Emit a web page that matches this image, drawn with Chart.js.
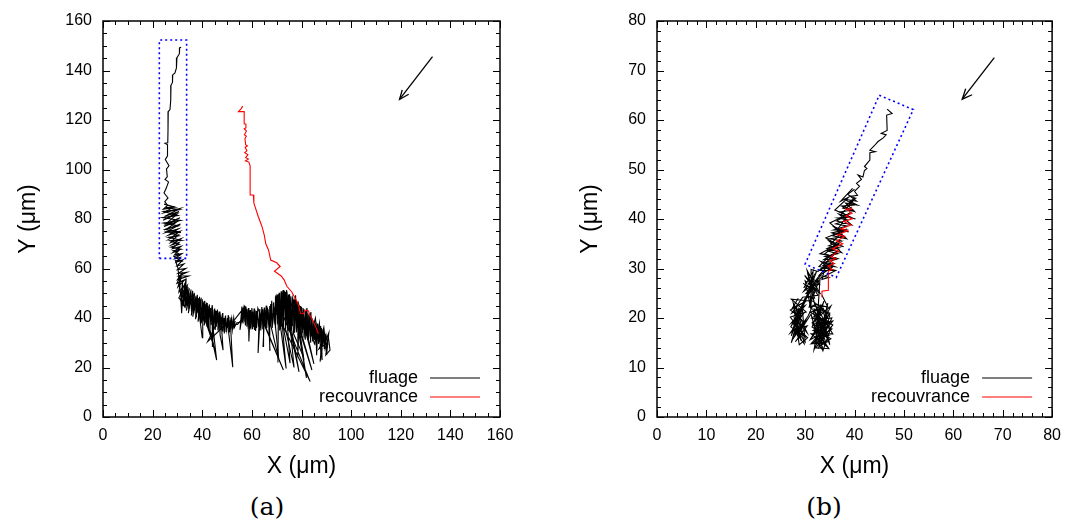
<!DOCTYPE html>
<html lang="fr">
<head>
  <meta charset="UTF-8">
  <title>Trajectoires : fluage / recouvrance</title>
  <script src="https://cdn.jsdelivr.net/npm/chart.js"></script>
  <style>
    body {
      margin: 0;
      background: #fff;
      width: 1070px;
      height: 531px;
      position: relative;
      overflow: hidden;
    }

    .panel {
      position: absolute;
      top: 0;
      width: 535px;
      height: 480px;
    }

    .cap {
      position: absolute;
      top: 492px;
      width: 80px;
      margin-left: -40px;
      text-align: center;
      font-family: "DejaVu Serif", serif;
      font-size: 25px;
      color: #000;
    }
  </style>
</head>
<body>
  <div class="panel" style="left:0"><canvas id="chartA"></canvas></div>
  <div class="panel" style="left:535px"><canvas id="chartB"></canvas></div>
  <div class="cap" style="left:267px">(a)</div>
  <div class="cap" style="left:824px">(b)</div>

  <script>
    // (a) fluage : trajectoire en noir
    const fluageA = [
      [31.5,149.4],[30.9,149.2],[30.8,146.8],[29.8,145.2],[29.6,141.0],[29.0,139.0],[28.1,138.2],[28.0,135.2],
      [27.4,134.0],[27.3,128.0],[27.0,124.2],[26.3,123.4],[26.2,116.0],[26.1,110.8],[25.0,110.6],[26.0,110.0],
      [26.0,105.5],[25.1,104.0],[26.6,101.5],[25.6,100.2],[25.9,97.0],[25.0,96.0],[26.4,95.0],[25.5,92.5],
      [24.6,90.5],[26.2,88.5],[24.9,87.0],[26.0,85.5],
      [24.3,84.0],[27.8,84.5],[24.5,82.5],[31.0,84.2],[24.8,81.0],[30.6,83.0],[24.2,79.5],[29.8,82.0],
      [25.4,78.0],[31.0,80.5],[24.6,77.0],[30.0,79.0],[25.8,76.0],[31.2,78.0],[25.2,74.5],[30.4,76.0],
      [26.4,73.5],[31.0,75.0],[26.8,72.0],[30.2,73.5],[27.2,70.5],[31.3,72.0],[27.6,69.5],[30.6,70.5],
      [28.0,68.0],[31.5,69.0],[28.3,66.5],[30.8,67.5],[28.8,65.5],[31.8,66.0],[29.0,64.0],[31.2,64.5],
      [29.5,62.5],[32.2,63.5],[29.8,61.0],[32.6,61.8],[30.0,59.5],[33.4,60.0],[30.3,58.0],[33.8,58.5],
      [30.5,57.0],[34.5,57.0],[30.0,55.5],[32.0,58.5],[29.8,54.0],[33.0,55.5],[30.2,52.5],[31.5,57.0],
      [30.6,50.5],[32.6,53.0],[31.0,49.0],[33.6,52.5],[31.4,47.5],[31.7,41.9],[32.0,47.0],[33.4,50.0],
      [32.2,45.5],[30.5,48.5],[33.0,44.5],
      [33.5,56.0],[32.0,46.0],[34.0,53.5],[33.0,44.0],[34.8,52.0],[33.6,43.0],[35.5,51.5],[34.4,42.0],
      [36.0,50.5],[34.9,45.0],[36.4,49.0],[35.6,41.0],[36.9,50.0],[36.2,40.5],[37.5,49.0],[36.8,43.0],
      [38.0,48.5],[37.3,39.5],[38.6,48.0],[37.9,42.0],[39.1,47.5],[38.3,38.5],[39.6,48.2],[39.0,40.0],
      [40.0,32.0],[40.2,46.5],[39.6,38.0],[40.8,46.8],[40.2,41.0],[41.3,45.5],[40.8,37.0],[41.8,46.2],
      [41.3,39.5],[42.3,45.0],[41.9,36.5],[42.9,45.5],[42.4,38.5],[43.4,44.0],[43.1,35.2],[45.8,23.0],
      [43.8,41.0],[44.0,44.5],[44.2,36.0],[44.0,28.3],[44.8,43.5],[44.6,37.5],[45.3,43.0],[45.2,35.2],
      [45.9,42.8],[45.7,38.0],[46.4,42.0],[46.3,35.0],[47.0,41.5],[47.2,33.1],[48.4,27.0],[47.5,40.5],
      [47.6,35.5],[48.2,42.0],[48.3,34.6],[48.8,40.0],[49.0,36.5],[49.4,41.0],[49.6,34.3],[50.2,40.0],
      [50.1,36.0],[50.8,40.5],[50.6,34.5],[52.3,20.1],[51.3,39.0],[51.2,35.5],[51.8,39.5],[52.0,35.8],
      [52.4,39.0],[52.6,36.5],[53.2,38.5],[51.9,37.9],[56.6,43.9],[55.2,35.2],
      [56.0,44.6],[56.4,37.8],[57.0,45.0],[57.2,38.5],[57.8,43.5],[58.0,36.5],[58.6,44.0],[58.8,30.5],
      [59.3,43.2],[59.5,36.0],[60.1,42.5],[60.3,35.5],[60.9,43.8],[61.1,35.2],[61.7,42.8],[61.9,36.0],
      [62.4,44.0],[72.7,19.0],[63.0,42.0],[62.5,25.9],[63.4,41.5],[63.5,36.0],[64.2,43.5],[64.4,35.5],
      [65.0,44.2],[65.1,36.8],[65.8,45.0],[66.0,36.0],[66.5,43.5],[67.3,27.0],[67.2,44.8],[67.5,36.5],
      [68.0,47.0],[68.3,37.0],[69.0,44.0],[83.5,14.3],[69.6,48.5],[69.5,36.0],[70.2,49.5],[70.4,37.5],
      [71.0,50.2],[71.2,35.0],[71.8,50.8],[72.0,36.5],[72.6,51.3],[72.8,35.5],[75.4,21.8],[73.4,50.5],
      [73.6,36.0],[74.0,51.3],[74.4,35.8],[74.8,49.5],[75.2,34.5],[75.7,48.8],[76.0,35.5],[76.5,47.8],
      [82.0,15.8],[77.0,47.5],[77.2,34.0],[77.8,47.0],[78.0,35.0],[78.6,46.0],[78.5,24.0],[79.2,45.0],
      [79.4,33.5],[80.0,44.5],[80.3,34.0],[80.9,43.5],[81.0,32.0],[81.7,42.8],[81.9,33.0],[82.6,41.9],
      [82.8,31.5],[83.4,41.0],[83.6,32.5],[84.2,40.0],[84.5,30.5],[85.0,39.0],[85.3,31.0],[85.8,38.2],
      [86.1,25.0],[86.6,37.5],[86.9,29.5],[87.4,36.5],[87.6,28.4],[88.3,23.0],[88.0,36.0],[88.5,29.0],
      [88.8,35.0],[89.2,27.5],[89.6,33.5],[90.0,28.0],[90.8,32.5],[91.5,27.0],[89.8,25.0],[90.4,30.0],
      [87.0,27.5],[89.0,31.5]
    ];

    // (a) fluage : allers-retours supplémentaires dans les zones denses
    const fluageA2 = [
      [90.6,29.2],[89.9,33.0],[89.4,28.4],[88.7,35.6],[87.5,22.4],[88.2,27.6],[87.7,36.8],[87.2,30.2],
      [86.4,37.8],[85.9,29.0],[85.2,38.6],[84.8,31.6],[84.0,40.4],[83.7,30.0],[83.0,41.4],[82.5,32.4],
      [81.9,42.4],[81.5,31.2],[80.6,44.0],[80.2,33.2],[79.6,44.8],[79.1,32.6],[78.4,46.6],[78.0,34.2],
      [77.4,47.2],[80.8,24.4],[76.8,33.6],[76.3,48.4],[75.8,35.0],[75.2,49.6],[74.6,34.8],[74.1,50.6],
      [77.0,20.0],[73.6,35.4],[73.2,51.0],[72.6,36.2],[72.1,50.0],[71.6,35.6],[70.8,49.6],[70.5,22.0],
      [70.6,36.8],[69.8,48.8],[69.3,37.4],[68.8,46.4],[68.2,36.0],[67.6,45.6],[66.9,37.2],[66.3,44.2],
      [65.6,35.8],[65.2,43.2],[64.5,28.5],[64.7,36.6],[64.0,44.4],[63.6,35.0],[63.2,43.6],[62.7,36.4],
      [62.1,42.2],[61.5,34.8],[61.2,43.2],[60.6,36.4],[60.0,44.0],[59.6,35.4],[59.0,42.6],[58.4,37.2],
      [57.6,44.6],[57.4,37.0],[56.8,43.8],[56.2,38.6],
      [53.8,38.0],[53.0,36.2],[52.7,39.8],[52.1,35.0],[51.6,40.2],[51.0,34.2],[50.5,41.2],[49.9,35.2],
      [49.3,40.6],[48.9,33.8],[48.1,41.6],[47.8,36.0],[47.1,42.6],[46.8,34.6],[46.1,43.4],[45.6,36.4],
      [45.0,43.8],[44.6,35.6],[44.0,45.2],[43.6,37.2],[42.9,44.6],[42.6,36.0],[42.0,46.0],[41.6,37.8],
      [41.0,47.0],[40.6,38.6],[40.0,47.6],[39.4,37.6],[38.9,48.6],[38.6,39.0],[38.0,49.4],[37.6,40.2],
      [37.1,48.4],[36.6,41.8],[36.1,51.0],[35.7,42.4],[35.1,50.2],[34.6,43.6],[34.2,52.6],[33.6,45.0],
      [33.0,54.2],[32.5,44.8],[32.0,55.0],[31.6,46.4],
      [30.2,60.2],[29.2,63.2],[31.6,63.0],[28.6,64.8],[31.0,65.6],[28.2,67.2],[31.4,67.8],[27.4,68.6],
      [30.8,69.8],[27.0,71.2],[31.6,71.4],[26.4,72.6],[30.6,73.2],[25.8,74.8],[31.4,74.6],[25.0,75.8],
      [30.4,77.2],[24.4,78.4],[31.2,79.4],[24.0,80.6],[30.2,81.4],[24.4,83.0],[30.8,83.8],[25.2,84.6],
      [29.0,84.8],[24.6,86.0]
    ];

    // (a) fluage : troisième passage (bande de droite et longues pointes)
    const fluageA3 = [
      [66.0,44.0],[70.8,23.5],[68.6,45.8],[69.2,38.4],[70.0,48.0],[73.8,19.6],[71.4,47.0],[71.8,38.0],
      [72.4,49.6],[79.0,18.2],[73.8,47.6],[74.2,37.6],[75.4,47.2],[84.2,19.0],[76.6,45.4],[76.4,36.8],
      [77.6,49.2],[78.2,36.4],[78.8,45.8],[85.0,21.5],[80.4,42.2],[80.6,35.2],[82.2,44.0],[82.4,33.8],
      [83.8,42.4],[84.0,33.6],[85.6,40.0],[86.4,32.6],[87.2,38.0],[87.8,31.2],[89.0,36.2],[89.6,30.4],
      [91.0,34.0],[90.2,26.0],[88.6,32.2],[86.8,34.8],[85.2,29.6],[83.2,36.8],[81.6,35.6],[79.8,38.8],
      [78.2,40.8],[76.4,41.6],[74.8,42.6],[73.0,44.2],[71.4,42.4],[69.6,42.8],[68.0,41.2],[66.4,40.2],
      [64.6,40.8],[62.8,39.2],[61.0,39.8],[59.2,40.0],[57.4,41.0],
      [54.2,37.4],[50.0,37.8],[42.2,30.5],[46.6,39.4],[41.0,41.8],[45.2,27.0],[39.6,44.0],[37.0,45.6],
      [35.2,47.6],[33.4,48.2]
    ];

    // (a) recouvrance : trajectoire en rouge
    const recouvA = [
      [56.3,125.6],[55.7,124.6],[54.6,123.4],[56.9,123.4],[56.9,118.5],[57.6,118.3],[57.6,116.8],[56.9,116.5],
      [57.8,115.5],[57.0,114.0],[57.8,113.5],[57.2,112.5],[57.5,110.0],[58.2,109.5],[57.3,109.0],[58.0,107.5],
      [57.1,106.8],[58.4,106.0],[57.5,104.8],[58.6,104.2],[57.4,103.5],[58.8,103.0],[59.3,101.5],[59.3,89.7],
      [60.6,89.7],[60.8,86.5],[61.2,85.2],[62.6,80.9],[63.8,77.7],[64.2,76.5],[65.0,73.5],[65.6,70.0],
      [66.7,67.5],[67.6,63.4],[70.0,62.3],[71.4,60.8],[69.1,58.9],[71.8,57.0],[73.0,55.4],[74.1,52.8],
      [76.1,50.5],[77.0,48.8],[78.1,46.8],[79.0,44.5],[79.6,41.8],[80.8,41.7],[81.5,43.2],[82.8,42.8],
      [83.6,40.6],[84.8,38.5],[85.8,36.2],[86.8,33.7]
    ];

    // (a) zone encadrée (pointillés bleus) et flèche de direction
    const zoneA = [[22.7,64.1],[33.7,64.1],[33.7,152.3],[22.7,152.3],[22.7,64.1]];
    const flecheA = [[132.8,145.6],[119.5,128.3]];
    const pointeA = [[120.6,132.2],[119.5,128.3],[123.2,130.4]];

    // (b) fluage
    const fluageB = [
      [46.6,62.2],[47.6,61.3],[46.5,61.0],[46.6,57.9],[45.4,57.3],[46.4,57.0],[45.8,56.4],[44.7,55.6],
      [44.1,54.9],[43.1,53.9],[44.2,53.6],[43.1,53.4],[43.1,51.9],[42.0,50.6],[42.5,50.2],[42.0,49.8],
      [41.7,48.5],[40.7,48.9],[41.4,48.0],[40.4,47.2],[41.0,46.6],[40.0,45.6],[40.6,44.8],[39.3,44.6],
      [40.2,44.2],[39.0,43.6],
      [40.6,42.8],[38.2,43.2],[40.0,41.5],[37.6,42.2],[39.8,43.8],[37.2,40.8],[40.2,40.0],[36.8,41.0],
      [39.4,38.8],[36.4,39.6],[39.0,41.2],[36.6,38.0],[38.8,37.4],[35.8,38.4],[38.4,36.0],[35.6,36.6],
      [38.0,37.8],[35.2,35.0],[37.8,34.4],[34.8,35.6],[37.4,33.2],[34.4,34.0],[37.0,35.2],[34.0,33.0],
      [36.6,32.0],[33.8,31.8],[36.4,33.4],[33.6,30.6],[36.0,30.4],[33.2,31.4],[35.6,29.6],[33.0,29.6],
      [35.2,31.2],[32.8,28.6],[34.8,28.2],[33.4,27.8],[34.2,30.8],[32.6,29.4],
      [31.2,29.8],[31.2,21.6],[30.0,27.5],[32.5,25.6],[30.2,25.0],[32.6,28.2],[31.0,23.0],[31.6,29.4],
      [29.8,26.2],[32.9,26.8],[30.6,28.8],[31.9,24.0],[30.3,24.2],[32.3,29.4],[31.4,27.0],[29.9,28.6],
      [32.6,24.6],
      [29.5,24.2],[27.3,21.0],[30.0,22.5],[27.2,19.0],[29.6,20.8],[27.0,17.0],[30.2,19.5],[27.4,15.6],
      [29.0,18.0],[28.2,22.5],[28.8,16.0],[27.8,20.0],[30.4,17.0],[27.6,23.0],[29.2,15.4],[28.4,18.6],
      [30.0,16.2],[27.1,18.2],[29.8,23.4],[28.0,16.8],[30.6,20.4],
      [31.6,22.6],[34.0,21.5],[31.3,20.0],[35.0,19.0],[31.6,17.5],[34.8,16.5],[32.0,15.5],[33.5,13.6],
      [33.0,18.5],[35.4,17.8],[31.2,14.8],[34.2,15.0],[31.8,21.8],[35.0,21.0],[32.4,16.2],[34.6,18.4],
      [33.2,22.6],[31.4,18.2],[35.2,15.8],[32.8,14.2],[34.4,20.2],[31.6,16.4],[33.8,23.4],[32.2,19.6],
      [35.4,20.0],[32.6,13.8],[34.0,17.2],[31.0,15.6],[33.6,19.8],[35.0,14.6],[32.0,22.8],[34.6,22.2],
      [33.4,24.6]
    ];

    // (b) fluage : retours dans les amas
    const fluageB2 = [
      [33.8,22.0],[31.0,21.2],[35.6,18.6],[32.2,14.0],[34.8,13.8],[31.4,19.0],[35.2,22.4],[32.6,17.0],
      [34.2,14.4],[31.2,16.8],[35.6,16.8],[33.0,21.0],[31.8,13.6],[34.4,19.4],[32.0,18.0],[33.6,15.4],
      [35.0,20.6],[31.6,23.4],
      [27.2,23.8],[30.2,21.2],[27.0,20.2],[29.4,16.8],[28.0,15.2],[30.4,18.4],[27.6,17.6],[29.8,14.8],
      [28.6,21.8],[27.2,16.4],[30.0,24.0],[28.2,19.4],
      [31.2,26.0],[29.6,27.0],[33.0,25.0],[30.4,29.6],[32.0,22.4],[30.8,22.2],[32.8,27.6],[29.7,25.4],
      [31.8,28.6],[30.0,23.6],
      [33.2,28.8],[35.4,30.2],[33.4,30.0],[35.8,31.0],[33.8,31.2],[36.2,31.8],[34.0,32.4],[36.6,33.0],
      [34.4,33.6],[36.9,34.2],[34.8,34.6],[37.2,35.6],[35.0,36.0],[37.6,36.4],[35.4,37.2],[38.0,37.8],
      [35.8,37.8],[38.4,38.6],[36.2,39.0],[38.6,39.8],[36.6,40.2],[39.2,40.4],[37.0,41.4],[39.6,41.8],
      [37.4,42.6],[39.8,42.8],[38.0,44.0],[40.4,43.6],[38.6,45.0],[40.0,46.0]
    ];

    // (b) fluage : troisième passage dans les amas du bas
    const fluageB3 = [
      [28.6,24.0],[27.4,22.0],[30.2,23.4],[27.0,21.6],[29.0,20.2],[27.2,15.0],[28.0,18.0],[30.0,15.2],
      [29.4,22.2],[27.6,18.8],[30.5,16.0],[28.8,14.6],[27.8,21.4],[29.8,19.0],[28.4,16.4],
      [31.2,20.8],[33.0,14.0],[32.4,21.8],[34.2,16.2],[31.8,18.8],[35.6,19.4],[32.8,16.0],[34.6,23.0],
      [33.2,17.2],[31.4,15.0],[34.8,15.2],[32.4,20.4],[35.2,18.0],[33.6,13.4],[31.6,21.6],[34.0,18.8],
      [32.8,19.2],[33.8,16.6],[34.4,21.0],[32.2,15.2],
      [33.0,28.0],[36.2,29.6],[32.8,30.4],[35.0,32.6],[33.0,33.0],[36.4,34.8],[34.2,36.2],[37.2,37.4],
      [35.0,39.2],[38.4,40.8],[36.0,41.8],[38.8,44.4],[37.2,43.6],[39.6,46.2]
    ];

    // (b) recouvrance
    const recouvB = [
      [33.4,24.2],[33.4,25.4],[34.7,25.6],[34.7,29.5],[35.5,29.8],[34.6,30.5],[35.9,31.0],[35.0,31.6],
      [36.2,32.0],[35.2,32.4],[36.8,33.5],[35.5,34.0],[37.6,35.0],[36.4,35.5],[38.0,36.5],[36.6,36.8],
      [38.6,37.6],[37.2,38.0],[39.3,38.8],[37.8,39.5],[39.5,40.0],[38.2,40.6],[39.5,41.2],[38.3,42.0],
      [39.4,42.0],[39.4,42.5]
    ];

    const zoneB = [[45.0,65.0],[51.9,62.1],[36.3,28.2],[30.0,30.9],[45.0,65.0]];
    const flecheB = [[68.3,72.6],[61.8,64.2]];
    const pointeB = [[62.5,66.3],[61.8,64.2],[63.8,65.1]];

    const ticksA = [0, 20, 40, 60, 80, 100, 120, 140, 160];
    const ticksB = [0, 10, 20, 30, 40, 50, 60, 70, 80];

    const FONT = '"Liberation Sans", Arial, sans-serif';

    const toPts = arr => arr.map(p => ({ x: p[0], y: p[1] }));

    // ticks vers l'intérieur sur les quatre côtés + cadre
    const frameTicks = {
      id: 'frameTicks',
      afterDatasetsDraw(chart, args, opts) {
        const { ctx, chartArea: a, scales: { x, y } } = chart;
        ctx.save();
        ctx.strokeStyle = '#000';
        ctx.lineWidth = 1;
        ctx.beginPath();
        for (let v = x.min; v <= x.max + 1e-6; v += opts.minor) {
          const px = Math.round(x.getPixelForValue(v)) + 0.5;
          const len = opts.majors.includes(Math.round(v * 100) / 100) ? 7 : 4;
          ctx.moveTo(px, a.bottom); ctx.lineTo(px, a.bottom - len);
          ctx.moveTo(px, a.top); ctx.lineTo(px, a.top + len);
        }
        for (let v = y.min; v <= y.max + 1e-6; v += opts.minor) {
          const py = Math.round(y.getPixelForValue(v)) + 0.5;
          const len = opts.majors.includes(Math.round(v * 100) / 100) ? 7 : 4;
          ctx.moveTo(a.left, py); ctx.lineTo(a.left + len, py);
          ctx.moveTo(a.right, py); ctx.lineTo(a.right - len, py);
        }
        ctx.stroke();
        ctx.lineWidth = 1.5;
        ctx.strokeRect(a.left, a.top, a.right - a.left, a.bottom - a.top);
        ctx.restore();
      }
    };

    // légende façon gnuplot, en bas à droite du cadre
    const cornerKey = {
      id: 'cornerKey',
      afterDatasetsDraw(chart) {
        const { ctx, chartArea: a } = chart;
        const items = chart.data.datasets.filter(d => d.label);
        ctx.save();
        ctx.font = '18px ' + FONT;
        ctx.textAlign = 'right';
        ctx.textBaseline = 'middle';
        items.forEach((d, i) => {
          const yy = a.bottom - 39 + i * 19;
          ctx.fillStyle = '#000';
          ctx.fillText(d.label, a.right - 82, yy);
          ctx.strokeStyle = d.borderColor;
          ctx.lineWidth = 1.2;
          ctx.beginPath();
          ctx.moveTo(a.right - 70, yy);
          ctx.lineTo(a.right - 20, yy);
          ctx.stroke();
        });
        ctx.restore();
      }
    };

    function trace(label, data, color, order, extra) {
      return Object.assign({
        label: label,
        data: toPts(data),
        borderColor: color,
        borderWidth: 1.1,
        showLine: true,
        pointRadius: 0,
        tension: 0,
        fill: false,
        order: order
      }, extra || {});
    }

    function makeChart(id, o) {
      const axisFont = { family: FONT, size: 16 };
      const titleFont = { family: FONT, size: 23 };
      return new Chart(document.getElementById(id), {
        type: 'scatter',
        data: {
          datasets: [
            trace('fluage', o.flu, '#000000', 2),
            trace('recouvrance', o.rec, '#ff0000', 1),
            trace('', o.flu2, '#000000', 2),
            trace('', o.flu3, '#000000', 2),
            trace('', o.zone, '#0000ff', 0, { borderWidth: 1.6, borderDash: [2, 3] }),
            trace('', o.arrow, '#000000', 0, { borderWidth: 1.3 }),
            trace('', o.head, '#000000', 0, { borderWidth: 1.3 })
          ]
        },
        options: {
          responsive: true,
          maintainAspectRatio: false,
          animation: false,
          layout: { padding: { top: 21, right: o.padRight, left: 0, bottom: 0 } },
          plugins: {
            legend: { display: false },
            tooltip: { enabled: false },
            frameTicks: { minor: o.minor, majors: o.ticks }
          },
          scales: {
            x: {
              type: 'linear', min: 0, max: o.max,
              afterBuildTicks: s => { s.ticks = o.ticks.map(v => ({ value: v })); },
              afterFit: s => { s.height = 63; },
              ticks: { padding: 9, color: '#000', font: axisFont, maxRotation: 0, autoSkip: false },
              grid: { display: false, drawTicks: false },
              border: { display: false },
              title: { display: true, text: 'X (μm)', color: '#000', font: titleFont, padding: { top: 0, bottom: 0 } }
            },
            y: {
              type: 'linear', min: 0, max: o.max,
              afterBuildTicks: s => { s.ticks = o.ticks.map(v => ({ value: v })); },
              afterFit: s => { s.width = o.yWidth; },
              ticks: { padding: 11, color: '#000', font: axisFont, autoSkip: false },
              grid: { display: false, drawTicks: false },
              border: { display: false },
              title: { display: true, text: 'Y (μm)', color: '#000', font: titleFont, padding: { top: o.yTitlePad, bottom: 0 } }
            }
          }
        },
        plugins: [frameTicks, cornerKey]
      });
    }

    makeChart('chartA', {
      flu: fluageA, flu2: fluageA2, flu3: fluageA3, rec: recouvA, zone: zoneA, arrow: flecheA, head: pointeA,
      max: 160, ticks: ticksA, minor: 5, yWidth: 103, padRight: 35, yTitlePad: 15
    });

    makeChart('chartB', {
      flu: fluageB, flu2: fluageB2, flu3: fluageB3, rec: recouvB, zone: zoneB, arrow: flecheB, head: pointeB,
      max: 80, ticks: ticksB, minor: 2, yWidth: 122, padRight: 14, yTitlePad: 42
    });
  </script>
</body>
</html>
